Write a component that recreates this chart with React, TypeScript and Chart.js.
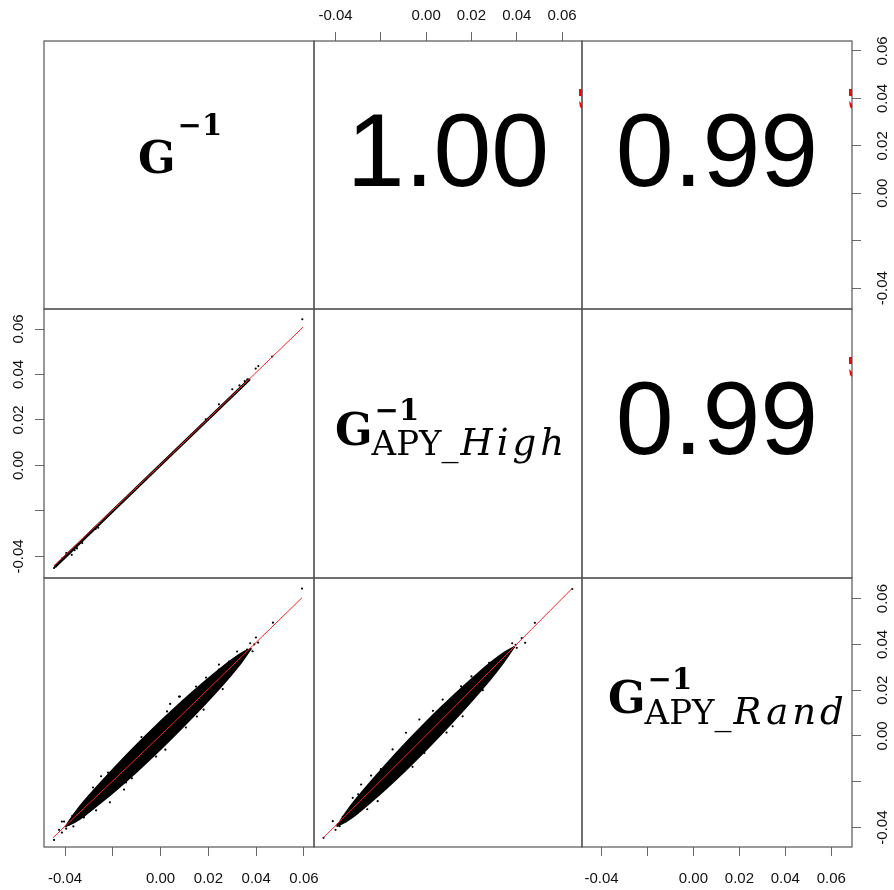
import React, { useEffect, useRef } from 'react';
import { Chart, registerables } from 'chart.js';
Chart.register(...registerables);

type P = [number, number];

// variables: 0 = G^-1, 1 = G^-1 APY_High, 2 = G^-1 APY_Rand
const VAR_SUBSCRIPTS = ['', 'APY_', 'APY_'];
const VAR_SUB_ITALIC = ['', 'High', 'Rand'];
const AXIS_MIN = [-0.0488, -0.0495, -0.0485];
const AXIS_MAX = [0.0642, 0.0688, 0.069];
const TICK_VALUES = [-0.04, -0.02, 0, 0.02, 0.04, 0.06];
const TICK_LABELS = ['-0.04', '', '0.00', '0.02', '0.04', '0.06'];

const CORR_G_HIGH = 1.0;
const CORR_G_RAND = 0.99;
const CORR_HIGH_RAND = 0.99;

// G vs High (row 2, col 1)
const BAND_G_HIGH: P[] = [[-0.0440, -0.0443], [0.0, 0.0003], [0.0370, 0.0377]];
const OUT_G_HIGH: P[] = [
  [0.0593, 0.0643], [0.0467, 0.0479], [0.0409, 0.0437], [0.0398, 0.0426], [0.0363, 0.0379],
  [-0.0372, -0.0393], [-0.0360, -0.0373], [-0.0328, -0.0341], [-0.0272, -0.0279], [-0.0261, -0.0274],
  [-0.0411, -0.0407], [-0.0446, -0.0451], [0.0300, 0.0335], [0.0244, 0.0269], [0.0189, 0.0203],
  [0.0330, 0.0352], [0.0352, 0.0371], [-0.0395, -0.0385], [-0.0350, -0.0365],
];
const SMOOTH_G_HIGH: P[] = [[-0.0446, -0.0441], [0.0, 0.0004], [0.0596, 0.0608]];

// G vs Rand (row 3, col 1): dense cloud envelope
const CLOUD_G_RAND_UPPER: P[] = [
  [-0.0400, -0.0397], [-0.0360, -0.0337], [-0.0320, -0.0284], [-0.0250, -0.0202], [-0.0180, -0.0123],
  [-0.0100, -0.0037], [-0.0020, 0.0045], [0.0060, 0.0123], [0.0140, 0.0198], [0.0220, 0.0269],
  [0.0290, 0.0327], [0.0340, 0.0363], [0.0380, 0.0383],
];
const CLOUD_G_RAND_LOWER: P[] = [
  [-0.0400, -0.0397], [-0.0360, -0.0377], [-0.0320, -0.0350], [-0.0250, -0.0292], [-0.0180, -0.0231],
  [-0.0100, -0.0157], [-0.0020, -0.0079], [0.0060, 0.0003], [0.0140, 0.0088], [0.0220, 0.0177],
  [0.0290, 0.0259], [0.0340, 0.0323], [0.0380, 0.0383],
];
const OUT_G_RAND: P[] = [
  [0.0592, 0.0644], [0.0470, 0.0495], [0.0408, 0.0408], [0.0399, 0.0430], [0.0362, 0.0377],
  [0.0341, 0.0355], [0.0320, 0.0369], [0.0299, 0.0321], [0.0081, 0.0172], [0.0169, 0.0128],
  [-0.0212, -0.0290], [-0.0249, -0.0176], [-0.0321, -0.0356], [-0.0413, -0.0374], [-0.0413, -0.0422],
  [-0.0383, -0.0387], [-0.0354, -0.0343], [-0.0446, -0.0454], [-0.0061, -0.0038], [0.0006, 0.0041],
  [-0.0132, -0.0103], [-0.0187, -0.0190], [0.0244, 0.0290], [0.0257, 0.0259], [-0.0283, -0.0225],
  [-0.0153, -0.0234], [0.0027, 0.0107], [0.0077, 0.0172], [0.0148, 0.0216], [0.0152, 0.0085],
  [0.0106, 0.0037], [-0.0019, -0.0090], [-0.0145, -0.0203], [-0.0404, -0.0374], [0.0244, 0.0312],
  [0.0286, 0.0325], [0.0307, 0.0303], [0.0336, 0.0355], [-0.0425, -0.0410], [-0.0395, -0.0405],
  [-0.0370, -0.0350], [-0.0365, -0.0395], [0.0392, 0.0400], [0.0385, 0.0370], [0.0375, 0.0405],
  [-0.0300, -0.0262], [-0.0220, -0.0160], [-0.0080, -0.0005], [0.0040, 0.0140], [0.0190, 0.0255],
  [-0.0270, -0.0325], [-0.0120, -0.0185], [0.0020, -0.0060], [0.0180, 0.0115], [0.0260, 0.0205],
];
const SMOOTH_G_RAND: P[] = [[-0.0450, -0.0444], [0.0, 0.0003], [0.0592, 0.0604]];

// High vs Rand (row 3, col 2): dense cloud envelope
const CLOUD_HIGH_RAND_UPPER: P[] = [
  [-0.0395, -0.0395], [-0.0355, -0.0335], [-0.0315, -0.0282], [-0.0245, -0.0200], [-0.0175, -0.0121],
  [-0.0095, -0.0035], [-0.0015, 0.0047], [0.0065, 0.0125], [0.0145, 0.0200], [0.0225, 0.0271],
  [0.0295, 0.0329], [0.0345, 0.0365], [0.0390, 0.0390],
];
const CLOUD_HIGH_RAND_LOWER: P[] = [
  [-0.0395, -0.0395], [-0.0355, -0.0375], [-0.0315, -0.0348], [-0.0245, -0.0290], [-0.0175, -0.0229],
  [-0.0095, -0.0155], [-0.0015, -0.0077], [0.0065, 0.0005], [0.0145, 0.0090], [0.0225, 0.0179],
  [0.0295, 0.0261], [0.0345, 0.0325], [0.0390, 0.0390],
];
const OUT_HIGH_RAND: P[] = [
  [0.0645, 0.0642], [0.0480, 0.0494], [0.0422, 0.0428], [0.0437, 0.0407], [0.0367, 0.0370],
  [0.0352, 0.0355], [-0.0453, -0.0445], [-0.0412, -0.0372], [-0.0382, -0.0394], [-0.0368, -0.0353],
  [-0.0346, -0.0336], [-0.0324, -0.0270], [-0.0287, -0.0212], [-0.0243, -0.0173], [-0.0214, -0.0285],
  [-0.0008, -0.0074], [-0.0030, 0.0072], [0.0154, 0.0217], [0.0161, 0.0086], [0.0117, 0.0042],
  [0.0278, 0.0319], [0.0337, 0.0334], [0.0073, 0.0159], [-0.0148, -0.0059], [-0.0089, 0.0014],
  [0.0395, 0.0398], [0.0380, 0.0405], [0.0400, 0.0385], [-0.0400, -0.0410], [-0.0390, -0.0385],
  [-0.0300, -0.0255], [-0.0200, -0.0145], [0.0030, 0.0110], [0.0200, 0.0260], [-0.0260, -0.0320],
  [-0.0060, -0.0135], [0.0090, 0.0015], [0.0250, 0.0200],
];
const SMOOTH_HIGH_RAND: P[] = [[-0.0453, -0.0444], [0.0, 0.0003], [0.0644, 0.0644]];

// ---------- layout ----------
const W = 894;
const H = 890;
const COL_EDGES = [44, 314, 582, 852];
const ROW_EDGES = [41, 309, 578, 847];
const SANS = '"Liberation Sans", Arial, Helvetica, sans-serif';
const SERIF = '"DejaVu Serif", serif';
// diagonal label anchors relative to panel box: [G ink left, G baseline, sup drop, sub drop, italic spacing]
const DIAG_ANCHOR = [
  [96, 132, 38, 0, 0],
  [23, 136, 25, 10, 4],
  [28, 135, 24, 11, 4],
];

const toXY = (arr: P[]) => arr.map(([x, y]) => ({ x, y }));

function tickLabel(v: number) {
  const i = TICK_VALUES.findIndex((t) => Math.abs(t - v) < 1e-9);
  return i >= 0 ? TICK_LABELS[i] : '';
}

function lowerDatasets(row: number, col: number): any[] {
  const smooth = (d: P[]) => ({
    data: toXY(d), showLine: true, borderColor: '#ff2020', borderWidth: 1, pointRadius: 0, fill: false, tension: 0.2,
  });
  const points = (d: P[]) => ({
    data: toXY(d), showLine: false, pointRadius: 1.1, pointBackgroundColor: '#000', pointBorderWidth: 0, fill: false,
  });
  const cloud = (up: P[], lo: P[]) => [
    { data: toXY(up), showLine: true, borderColor: '#000', borderWidth: 1.4, pointRadius: 0, fill: '+1', backgroundColor: '#000', tension: 0.3 },
    { data: toXY(lo), showLine: true, borderColor: '#000', borderWidth: 1.4, pointRadius: 0, fill: false, tension: 0.3 },
  ];
  if (row === 1 && col === 0) {
    return [
      smooth(SMOOTH_G_HIGH),
      points(OUT_G_HIGH),
      { data: toXY(BAND_G_HIGH), showLine: true, borderColor: '#000', borderWidth: 3, pointRadius: 0, fill: false, borderCapStyle: 'round' },
    ];
  }
  if (row === 2 && col === 0) {
    return [smooth(SMOOTH_G_RAND), points(OUT_G_RAND), ...cloud(CLOUD_G_RAND_UPPER, CLOUD_G_RAND_LOWER)];
  }
  if (row === 2 && col === 1) {
    return [smooth(SMOOTH_HIGH_RAND), points(OUT_HIGH_RAND), ...cloud(CLOUD_HIGH_RAND_UPPER, CLOUD_HIGH_RAND_LOWER)];
  }
  return [];
}

function corrFor(row: number, col: number): number | null {
  if (row === 0 && col === 1) return CORR_G_HIGH;
  if (row === 0 && col === 2) return CORR_G_RAND;
  if (row === 1 && col === 2) return CORR_HIGH_RAND;
  return null;
}

function drawDiagLabel(ctx: CanvasRenderingContext2D, v: number, left: number, top: number) {
  const [dx, dy, supDrop, subDrop, itSpacing] = DIAG_ANCHOR[v];
  ctx.save();
  ctx.fillStyle = '#000';
  ctx.textAlign = 'left';
  ctx.textBaseline = 'alphabetic';
  const gx = left + dx - 2;
  const base = top + dy;
  ctx.font = 'bold 44px ' + SERIF;
  ctx.fillText('G', gx, base);
  const gw = ctx.measureText('G').width;
  ctx.font = 'bold 29px ' + SERIF;
  ctx.fillText('\u22121', gx + gw + 2, base - supDrop);
  if (VAR_SUBSCRIPTS[v]) {
    const sx = gx + gw - 1;
    ctx.font = '34px ' + SERIF;
    ctx.fillText(VAR_SUBSCRIPTS[v], sx, base + subDrop);
    const w1 = ctx.measureText(VAR_SUBSCRIPTS[v]).width;
    ctx.font = 'italic 37px ' + SERIF;
    (ctx as any).letterSpacing = itSpacing + 'px';
    ctx.fillText(VAR_SUB_ITALIC[v], sx + w1 + 2, base + subDrop);
    (ctx as any).letterSpacing = '0px';
  }
  ctx.restore();
}

function makeConfig(row: number, col: number): any {
  const xVar = col;
  const yVar = row;
  const l = COL_EDGES[col], r = COL_EDGES[col + 1];
  const t = ROW_EDGES[row], b = ROW_EDGES[row + 1];
  const xPos = row === 0 && col === 1 ? 'top' : row === 2 && col !== 1 ? 'bottom' : null;
  const yPos = col === 0 && row === 1 ? 'left' : col === 2 && row !== 1 ? 'right' : null;

  const padding = {
    left: yPos === 'left' ? 0 : l,
    right: yPos === 'right' ? 0 : W - r,
    top: xPos === 'top' ? 0 : t,
    bottom: xPos === 'bottom' ? 0 : H - b,
  };

  const tickGrid = { drawOnChartArea: false, drawTicks: true, tickLength: 9, color: '#6a6a6a', lineWidth: 1 };

  const xScale: any = {
    type: 'linear',
    position: xPos || 'bottom',
    display: !!xPos,
    min: AXIS_MIN[xVar],
    max: AXIS_MAX[xVar],
    afterBuildTicks: (s: any) => { s.ticks = TICK_VALUES.map((v) => ({ value: v })); },
    afterFit: (s: any) => {
      if (xPos) s.height = xPos === 'top' ? t : H - b;
      else s.height = 0;
    },
    grid: tickGrid,
    border: { display: false },
    ticks: {
      display: true, autoSkip: false, maxRotation: 0, minRotation: 0,
      callback: (v: number) => tickLabel(v),
      font: { family: SANS, size: 15 }, color: '#111',
      padding: xPos === 'top' ? 7.5 : 14,
    },
  };
  const yScale: any = {
    type: 'linear',
    position: yPos || 'left',
    display: !!yPos,
    min: AXIS_MIN[yVar],
    max: AXIS_MAX[yVar],
    afterBuildTicks: (s: any) => { s.ticks = TICK_VALUES.map((v) => ({ value: v })); },
    afterFit: (s: any) => {
      if (yPos) s.width = yPos === 'left' ? l : W - r;
      else s.width = 0;
    },
    grid: tickGrid,
    border: { display: false },
    ticks: { display: false },
  };

  const corr = corrFor(row, col);

  const panelPlugin = {
    id: 'panelDecor' + row + col,
    afterDraw(chart: any) {
      const ctx: CanvasRenderingContext2D = chart.ctx;
      const a = chart.chartArea;
      ctx.save();
      ctx.strokeStyle = '#555';
      ctx.lineWidth = 1.2;
      ctx.strokeRect(a.left, a.top, a.right - a.left, a.bottom - a.top);
      const cx = (a.left + a.right) / 2;
      if (row === col) drawDiagLabel(ctx, row, a.left, a.top);
      if (corr !== null) {
        ctx.fillStyle = '#000';
        ctx.font = '104px ' + SANS;
        ctx.textAlign = 'center';
        ctx.textBaseline = 'alphabetic';
        ctx.fillText(corr.toFixed(2), cx, a.top + 145);
        // clipped red significance marks at the right edge
        ctx.fillStyle = '#ff0000';
        ctx.fillRect(a.right - 3, a.top + 48, 3, 7);
        ctx.beginPath();
        ctx.moveTo(a.right - 3, a.top + 60);
        ctx.lineTo(a.right, a.top + 63);
        ctx.lineTo(a.right, a.top + 68);
        ctx.lineTo(a.right - 2, a.top + 66);
        ctx.closePath();
        ctx.fill();
      }
      if (yPos) {
        const ys = chart.scales.y;
        ctx.fillStyle = '#111';
        ctx.font = '15px ' + SANS;
        ctx.textAlign = 'center';
        ctx.textBaseline = 'middle';
        const lx = yPos === 'left' ? a.left - 25.5 : a.right + 30.5;
        TICK_VALUES.forEach((v, i) => {
          const lab = TICK_LABELS[i];
          if (!lab) return;
          const py = ys.getPixelForValue(v);
          ctx.save();
          ctx.translate(lx, py);
          ctx.rotate(-Math.PI / 2);
          ctx.fillText(lab, 0, 0);
          ctx.restore();
        });
      }
      ctx.restore();
    },
  };

  return {
    type: 'line',
    data: { datasets: row > col ? lowerDatasets(row, col) : [] },
    options: {
      responsive: false,
      animation: false,
      devicePixelRatio: 1,
      layout: { padding },
      scales: { x: xScale, y: yScale },
      plugins: { legend: { display: false }, tooltip: { enabled: false }, title: { display: false } },
      events: [],
    },
    plugins: [panelPlugin],
  };
}

function Panel({ row, col }: { row: number; col: number }) {
  const ref = useRef<HTMLCanvasElement | null>(null);
  useEffect(() => {
    if (!ref.current) return;
    const chart = new Chart(ref.current, makeConfig(row, col));
    return () => chart.destroy();
  }, [row, col]);
  return (
    <canvas
      ref={ref}
      width={W}
      height={H}
      style={{ position: 'absolute', left: 0, top: 0, width: W, height: H, pointerEvents: 'none' }}
    />
  );
}

export default function App() {
  const cells: { row: number; col: number }[] = [];
  for (let r = 0; r < 3; r++) for (let c = 0; c < 3; c++) cells.push({ row: r, col: c });
  return (
    <div style={{ position: 'absolute', left: 0, top: 0, width: W, height: H, background: '#fff', overflow: 'hidden' }}>
      {cells.map((p) => (
        <Panel key={p.row + '-' + p.col} row={p.row} col={p.col} />
      ))}
    </div>
  );
}
